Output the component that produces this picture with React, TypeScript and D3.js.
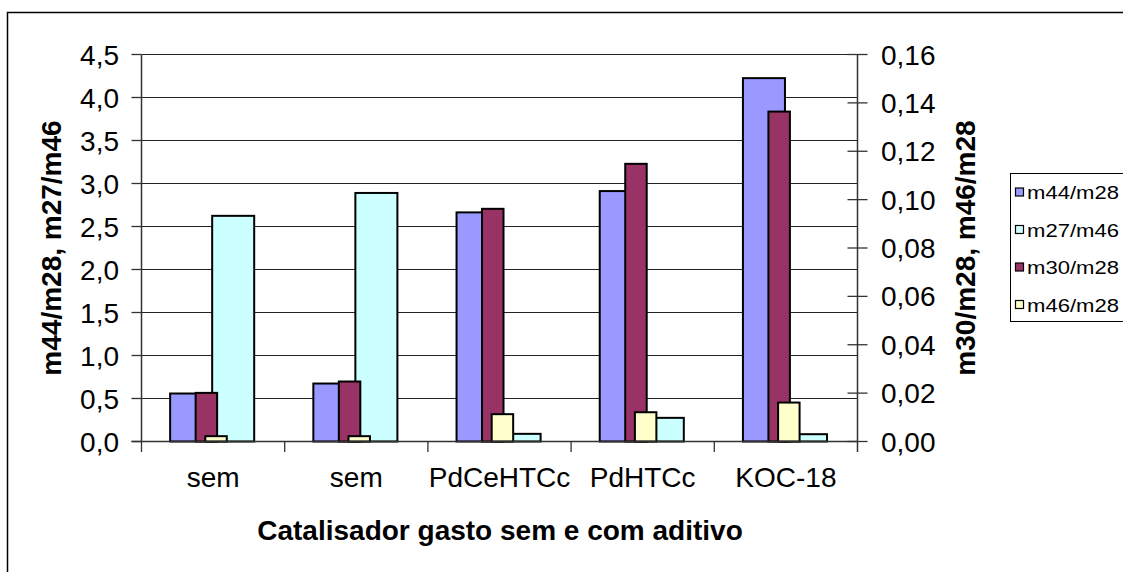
import React from 'react';
import * as d3 from 'd3';

const categories = ['sem', 'sem', 'PdCeHTCc', 'PdHTCc', 'KOC-18'];
const m44m28 = [0.558, 0.674, 2.664, 2.912, 4.225];
const m27m46 = [2.624, 2.89, 0.089, 0.275, 0.085];
const m30m28 = [0.0201, 0.0248, 0.0962, 0.1148, 0.1364];
const m46m28 = [0.0022, 0.0022, 0.0113, 0.0121, 0.0161];
const leftTicks = [0, 0.5, 1.0, 1.5, 2.0, 2.5, 3.0, 3.5, 4.0, 4.5];
const rightTicks = [0, 0.02, 0.04, 0.06, 0.08, 0.1, 0.12, 0.14, 0.16];
const legendLabels = ['m44/m28', 'm27/m46', 'm30/m28', 'm46/m28'];
const xTitle = 'Catalisador gasto sem e com aditivo';
const leftTitle = 'm44/m28, m27/m46';
const rightTitle = 'm30/m28, m46/m28';

const W = 1123;
const H = 572;
const plotL = 141.5;
const plotR = 857.5;
const plotT = 54.5;
const plotB = 441.5;
const FONT = '"Liberation Sans", Arial, sans-serif';

const colors: Record<string, string> = {
  'm44/m28': '#9999FF',
  'm27/m46': '#CCFFFF',
  'm30/m28': '#993366',
  'm46/m28': '#FFFFCC',
};

export default function App() {
  const x = d3.scaleBand<number>().domain(categories.map((_, i) => i)).range([plotL, plotR]).padding(0);
  const bw = x.bandwidth();
  const yL = d3.scaleLinear().domain([0, 4.5]).range([plotB, plotT]);
  const yR = d3.scaleLinear().domain([0, 0.16]).range([plotB, plotT]);

  // primary group (left axis): two adjacent bars
  const xPrim = d3.scaleBand<string>().domain(['m44/m28', 'm27/m46']).range([-0.3 * bw, 0.287 * bw]).padding(0);
  // secondary group (right axis): two overlapping narrower bars
  const secW = 0.15 * bw;
  const secStart = d3.scaleOrdinal<string, number>().domain(['m30/m28', 'm46/m28']).range([-0.122 * bw, -0.0545 * bw]);

  const fmtL = (v: number) => d3.format('.1f')(v).replace('.', ',');
  const fmtR = (v: number) => d3.format('.2f')(v).replace('.', ',');

  const primSeries: [string, number[]][] = [
    ['m44/m28', m44m28],
    ['m27/m46', m27m46],
  ];
  const secSeries: [string, number[]][] = [
    ['m30/m28', m30m28],
    ['m46/m28', m46m28],
  ];

  const center = (i: number) => (x(i) as number) + bw / 2;

  const legendY = [192, 229.5, 267, 304.5];

  return (
    <svg
      width={W}
      height={H}
      style={{ position: 'absolute', left: 0, top: 0, background: '#fff' }}
      fontFamily={FONT}
    >
      <rect x={0} y={0} width={W} height={H} fill="#fff" />
      <rect x={7.5} y={12.5} width={1300} height={800} fill="none" stroke="#000" strokeWidth={1.5} />

      {/* gridlines */}
      {leftTicks.slice(1).map((t) => (
        <line key={'g' + t} x1={plotL} x2={plotR} y1={yL(t)} y2={yL(t)} stroke="#222" strokeWidth={1} />
      ))}

      {/* primary bars */}
      {primSeries.map(([name, vals]) =>
        vals.map((v, i) => (
          <rect
            key={name + i}
            x={center(i) + (xPrim(name) as number)}
            y={yL(v)}
            width={xPrim.bandwidth()}
            height={plotB - yL(v)}
            fill={colors[name]}
            stroke="#000"
            strokeWidth={2}
          />
        ))
      )}
      {/* secondary bars */}
      {secSeries.map(([name, vals]) =>
        vals.map((v, i) => (
          <rect
            key={name + i}
            x={center(i) + secStart(name)}
            y={yR(v)}
            width={secW}
            height={plotB - yR(v)}
            fill={colors[name]}
            stroke="#000"
            strokeWidth={2}
          />
        ))
      )}

      {/* axes */}
      <line x1={plotL} x2={plotL} y1={plotT} y2={plotB} stroke="#333" strokeWidth={1.5} />
      <line x1={131.5} x2={plotR} y1={plotB} y2={plotB} stroke="#333" strokeWidth={1.5} />
      <line x1={plotR} x2={plotR} y1={plotT} y2={452} stroke="#333" strokeWidth={1.5} />
      {leftTicks.map((t) => (
        <g key={'lt' + t}>
          <line x1={131.5} x2={plotL} y1={yL(t)} y2={yL(t)} stroke="#333" strokeWidth={1.3} />
          <text x={119} y={yL(t) + 10} textAnchor="end" fontSize={28} fill="#000">
            {fmtL(t)}
          </text>
        </g>
      ))}
      {rightTicks.map((t) => (
        <g key={'rt' + t}>
          <line x1={847.5} x2={867.5} y1={yR(t)} y2={yR(t)} stroke="#333" strokeWidth={1.3} />
          <text x={881} y={yR(t) + 10} textAnchor="start" fontSize={28} fill="#000">
            {fmtR(t)}
          </text>
        </g>
      ))}
      {categories.map((_, i) => (
        <line key={'ct' + i} x1={x(i) as number} x2={x(i) as number} y1={plotB} y2={452} stroke="#333" strokeWidth={1.3} />
      ))}
      {categories.map((c, i) => (
        <text key={'cl' + i} x={center(i)} y={487} textAnchor="middle" fontSize={28} fill="#000">
          {c}
        </text>
      ))}

      {/* titles */}
      <text x={500} y={540} textAnchor="middle" fontSize={28} fontWeight="bold" fill="#000">
        {xTitle}
      </text>
      <text
        transform={`translate(61, ${(plotT + plotB) / 2}) rotate(-90)`}
        textAnchor="middle"
        fontSize={28}
        fontWeight="bold"
        fill="#000"
      >
        {leftTitle}
      </text>
      <text
        transform={`translate(975, ${(plotT + plotB) / 2}) rotate(-90)`}
        textAnchor="middle"
        fontSize={28}
        fontWeight="bold"
        fill="#000"
      >
        {rightTitle}
      </text>

      {/* legend */}
      <rect x={1010.5} y={173.5} width={200} height={148} fill="#fff" stroke="#000" strokeWidth={1} />
      {legendLabels.map((l, i) => (
        <g key={'lg' + l}>
          <rect x={1015.5} y={legendY[i] - 4} width={8} height={8} fill={colors[l]} stroke="#000" strokeWidth={1.2} />
          <text x={1027} y={legendY[i] + 7} fontSize={19} textLength={92} lengthAdjust="spacingAndGlyphs" fill="#000">
            {l}
          </text>
        </g>
      ))}
    </svg>
  );
}
